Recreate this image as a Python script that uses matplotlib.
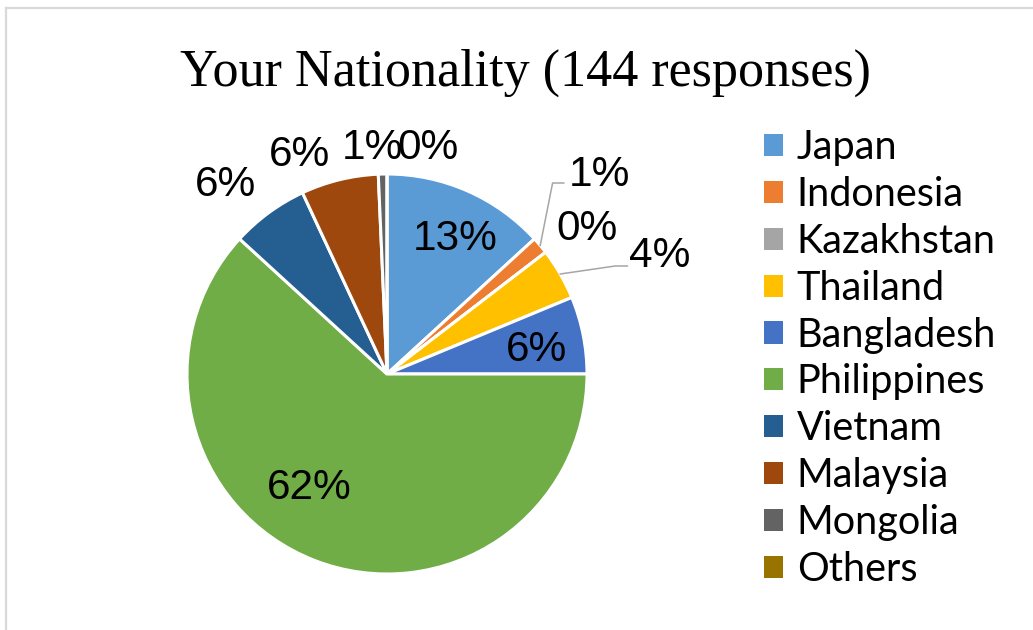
import matplotlib
matplotlib.use("Agg")
import matplotlib.pyplot as plt
from matplotlib.lines import Line2D
import numpy as np

# Survey counts (144 responses)
countries = ["Japan", "Indonesia", "Kazakhstan", "Thailand", "Bangladesh",
             "Philippines", "Vietnam", "Malaysia", "Mongolia", "Others"]
counts = [19, 2, 0, 6, 9, 89, 9, 9, 1, 0]
colors = ["#5B9BD5", "#ED7D31", "#A5A5A5", "#FFC000", "#4472C4",
          "#70AD47", "#255E91", "#9E480E", "#636363", "#997300"]

# Label anchors in pie units (radius = 1)
label_pos = [(0.343, 0.677), (1.061, 0.995), (1.0, 0.727), (1.364, 0.591),
             (0.747, 0.121), (-0.389, -0.571), (-0.808, 0.944),
             (-0.439, 1.096), (-0.071, 1.131), (0.207, 1.131)]
# leader lines: slice index -> (elbow, end)
leaders = {1: [(0.828, 0.955), (0.884, 0.955)],
           3: [(1.141, 0.540), (1.202, 0.540)]}

W, H = 1033, 630
fig = plt.figure(figsize=(W / 100, H / 100), dpi=100)
fig.patch.set_facecolor("white")

# pie centre at (387, 374) px, radius 198 px
R = 198
cx, cy = 387, H - 374
half = 250
ax = fig.add_axes([(cx - half) / W, (cy - half) / H, 2 * half / W, 2 * half / H])
lim = half / R
ax.set_xlim(-lim, lim)
ax.set_ylim(-lim, lim)
ax.set_aspect("equal")
ax.axis("off")

wedges, _ = ax.pie(counts, colors=colors, startangle=90, counterclock=False,
                   radius=1.0, wedgeprops=dict(edgecolor="white", linewidth=2.2))

total = sum(counts)
label_font = dict(family="Liberation Sans", fontsize=30.5, color="black",
                  ha="center", va="center")
for i, (w, v) in enumerate(zip(wedges, counts)):
    pct = f"{round(100 * v / total)}%"
    x, y = label_pos[i]
    ax.text(x, y, pct, clip_on=False, **label_font)
    if i in leaders:
        mid = np.deg2rad((w.theta1 + w.theta2) / 2)
        pts = [(np.cos(mid), np.sin(mid))] + leaders[i]
        xs, ys = zip(*pts)
        ax.plot(xs, ys, color="#A6A6A6", lw=1.1, clip_on=False)

leg = fig.legend(wedges, countries, loc="upper left",
                 bbox_to_anchor=(764 / W, 1 - 129 / H),
                 frameon=False, prop=dict(family="Lato", size=28.5),
                 handlelength=0.48, handleheight=0.48, handletextpad=0.35,
                 labelspacing=0.25, borderpad=0, borderaxespad=0)
for h in leg.legend_handles:
    h.set_edgecolor("none")

fig.text(525 / W, 1 - 73 / H, "Your Nationality (144 responses)",
         family="Liberation Serif", fontsize=37.5, ha="center", va="center")

# outer chart frame
frame_kw = dict(color="#D9D9D9", lw=1.6, transform=fig.transFigure)
fig.add_artist(Line2D([6 / W, 6 / W], [0, 1 - 7.5 / H], **frame_kw))
fig.add_artist(Line2D([6 / W, 1], [1 - 7.5 / H, 1 - 7.5 / H], **frame_kw))

fig.savefig("out.png", dpi=100, facecolor="white")
